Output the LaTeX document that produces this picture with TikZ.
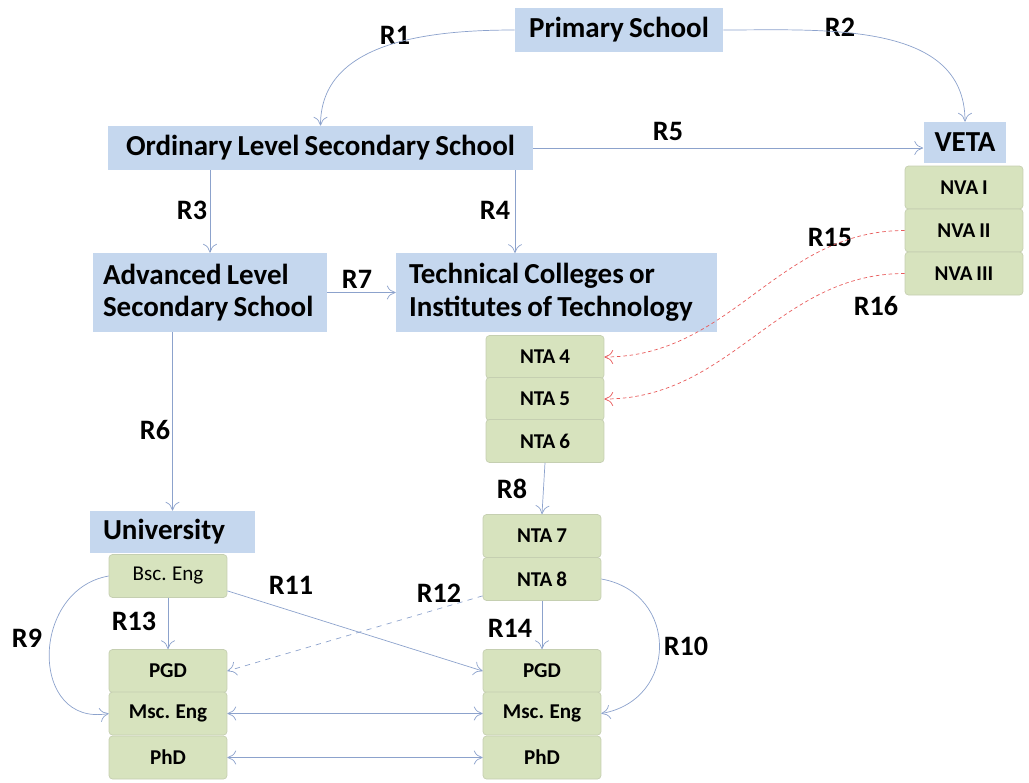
\documentclass[tikz,border=0pt]{standalone}
\usepackage{fontspec}
\setmainfont{Carlito}[WordSpace=0.8]
\usetikzlibrary{arrows.meta}
\definecolor{boxblue}{RGB}{197,215,238}
\definecolor{boxgreen}{RGB}{215,227,190}
\definecolor{linkblue}{RGB}{140,162,204}
\definecolor{linkred}{RGB}{232,92,92}
\begin{document}
\begin{tikzpicture}[x=0.02cm, y=-0.02cm,
  level/.style={fill=boxblue, inner sep=0pt, font=\fontsize{16.5}{18.5}\selectfont\bfseries},
  award/.style={fill=boxgreen, draw=boxgreen!80!gray, rounded corners=2pt, minimum width=2.36cm, minimum height=0.86cm, inner sep=0pt, font=\fontsize{12}{14}\selectfont\bfseries},
  route/.style={font=\fontsize{16}{18}\selectfont\bfseries},
  link/.style={draw=linkblue, -{To[length=5pt, width=8pt]}},
  twoway/.style={draw=linkblue, {To[length=5pt, width=8pt]}-{To[length=5pt, width=8pt]}},
  credit/.style={draw=linkred, dash pattern=on 2pt off 1.6pt, -{To[length=5pt, width=8pt]}}]
\useasboundingbox (0,0) rectangle (1029,782);
% levels of education
\node[level, minimum width=4.16cm, minimum height=0.88cm] (prim) at (619,30) {Primary School};
\node[level, minimum width=8.5cm, minimum height=0.88cm] (ord) at (320.5,148) {Ordinary Level Secondary School};
\node[level, minimum width=1.66cm, minimum height=0.82cm] (veta) at (965,142.5) {VETA};
\node[level, inner xsep=0.2cm, minimum height=1.58cm, text width=4.28cm, align=flush left] (adv) at (210,292.5) {Advanced Level\\Secondary School};
\node[level, inner xsep=0.26cm, minimum height=1.58cm, text width=5.9cm, align=flush left] (tech) at (556.5,292.5) {Technical Colleges or\\Institutes of Technology};
\node[level, inner xsep=0.26cm, minimum height=0.84cm, text width=2.78cm, align=flush left] (univ) at (172.5,532) {University};
% awards
\node[award] (nva1) at (964,187.5) {NVA I};
\node[award] (nva2) at (964,230.5) {NVA II};
\node[award] (nva3) at (964,273.5) {NVA III};
\node[award] (nta4) at (545,357) {NTA 4};
\node[award] (nta5) at (545,399) {NTA 5};
\node[award] (nta6) at (545,441) {NTA 6};
\node[award] (nta7) at (542,536) {NTA 7};
\node[award] (nta8) at (542,579) {NTA 8};
\node[award, font=\fontsize{12}{14}\selectfont] (bsc) at (168,576) {Bsc. Eng};
\node[award] (lpgd) at (168,671) {PGD};
\node[award] (lmsc) at (168,713.5) {Msc. Eng};
\node[award] (lphd) at (168,757.5) {PhD};
\node[award] (rpgd) at (542,671) {PGD};
\node[award] (rmsc) at (542,713.5) {Msc. Eng};
\node[award] (rphd) at (542,757.5) {PhD};
\coordinate (r4end) at (515,253);
% route labels
\node[route] (R1) at (395,35) {R1};
\node[route] (R2) at (840,27) {R2};
\node[route] (R3) at (192,210) {R3};
\node[route] (R4) at (495,210) {R4};
\node[route] (R5) at (668,131) {R5};
\node[route] (R6) at (155,430) {R6};
\node[route] (R7) at (357,279) {R7};
\node[route] (R8) at (512,489) {R8};
\node[route] (R9) at (27,638) {R9};
\node[route] (R10) at (686,646) {R10};
\node[route] (R11) at (291,585) {R11};
\node[route] (R12) at (439,593) {R12};
\node[route] (R13) at (134,621) {R13};
\node[route] (R14) at (510,628) {R14};
\node[route] (R15) at (830,237) {R15};
\node[route] (R16) at (876,306) {R16};
% routes
\draw[link] (prim.west) to[out=180, in=90] (ord.north);
\draw[link] (prim.east) to[out=0, in=90] (veta.north);
\draw[link] (adv.north |- ord.south) -- (adv.north);
\draw[link] (r4end |- ord.south) -- (r4end);
\draw[link] (ord.east) -- (ord.east -| veta.west);
\draw[link] (univ.north |- adv.south) -- (univ.north);
\draw[link] (adv.east) -- (tech.west);
\draw[link] (nta6.south) -- (nta7.north);
\draw[link] (bsc.west) to[out=190, in=-170, looseness=1.5] (lmsc.west);
\draw[link] (nta8.east) to[out=-10, in=10, looseness=1.5] (rmsc.east);
\draw[link] ([yshift=0.14cm]bsc.south east) -- (rpgd.west);
\draw[link, dashed] ([yshift=0.1cm]nta8.south west) -- (lpgd.east);
\draw[link] (bsc.south) -- (lpgd.north);
\draw[link] (nta8.south) -- (rpgd.north);
\draw[twoway] (lmsc.east) -- (rmsc.west);
\draw[twoway] (lphd.east) -- (rphd.west);
\draw[credit] (nva2.west) to[out=180, in=0] (nta4.east);
\draw[credit] (nva3.west) to[out=180, in=0] (nta5.east);
\end{tikzpicture}
\end{document}
